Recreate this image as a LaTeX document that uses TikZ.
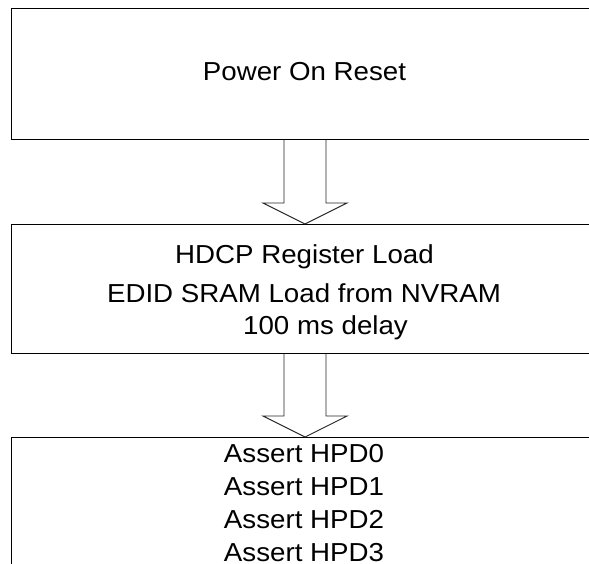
\documentclass[tikz,border=0pt]{standalone}
\usepackage{fontspec}
\setmainfont{Liberation Sans}[FakeStretch=1.065]
\usetikzlibrary{positioning}
\tikzset{
  stagebox/.style={draw, line width=1pt, minimum width=587pt, inner sep=0pt, anchor=north west},
  stagetext/.style={font=\fontsize{26}{33}\selectfont, anchor=base, inner sep=0pt},
  blockarrow/.style={draw=black!85, line width=0.9pt, line join=miter}
}
\begin{document}
\begin{tikzpicture}[x=1pt, y=-1pt]
\clip (0,0) rectangle (589,564);
% Power on reset
\node [stagebox, minimum height=131pt] (por) at (11,8) {};
\node [stagetext] (portext) at (304.5,81) {Power On Reset};
% Register and EDID load
\node [stagebox, minimum height=129pt] (load) at (11,224) {};
\node [stagetext] (hdcp) at (304.5,263) {HDCP Register Load};
\node [stagetext] (edid) at (304,302) {EDID SRAM Load from NVRAM};
\node [stagetext] (delay) at (325.5,334) {100 ms delay};
% Hot plug detect
\node [stagebox, minimum height=140pt] (hpd) at (11,437) {};
\foreach \i in {0,...,3}
  \node [stagetext] (hpd\i) at (304,{462+33*\i}) {Assert HPD\i};
% Block arrows
\draw [blockarrow] ([xshift=-21pt]por.south) |- ([xshift=-42pt,yshift=21pt]load.north)
  -- (load.north) -- ([xshift=42pt,yshift=21pt]load.north) -| ([xshift=21pt]por.south);
\draw [blockarrow] ([xshift=-21pt]load.south) |- ([xshift=-42pt,yshift=21pt]hpd.north)
  -- (hpd.north) -- ([xshift=42pt,yshift=21pt]hpd.north) -| ([xshift=21pt]load.south);
\end{tikzpicture}
\end{document}
